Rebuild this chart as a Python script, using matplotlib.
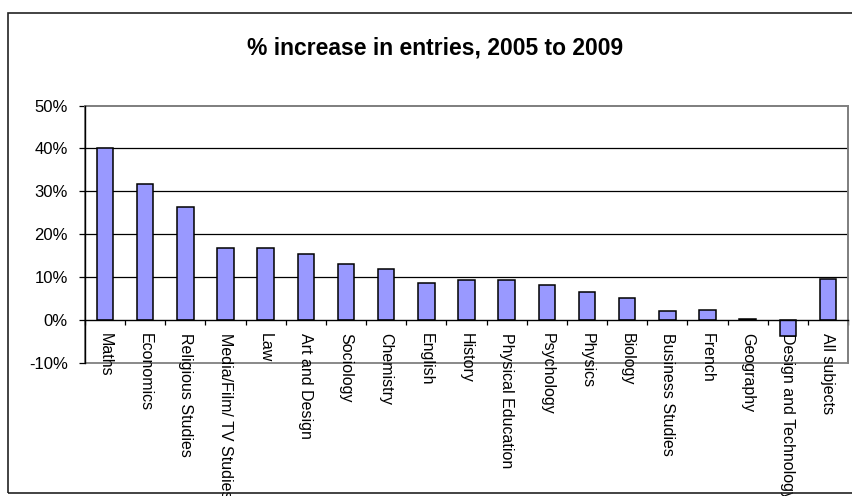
import matplotlib
matplotlib.use("Agg")
import matplotlib.pyplot as plt
from matplotlib.patches import Rectangle
from matplotlib.ticker import FuncFormatter, FixedLocator
import numpy as np

plt.rcParams['font.family'] = ['Liberation Sans', 'DejaVu Sans']

subjects = ["Maths", "Economics", "Religious Studies", "Media/Film/ TV Studies", "Law",
            "Art and Design", "Sociology", "Chemistry", "English", "History",
            "Physical Education", "Psychology", "Physics", "Biology", "Business Studies",
            "French", "Geography", "Design and Technology", "All subjects"]
pct_increase = [40.0, 31.7, 26.3, 16.7, 16.7, 15.3, 13.0, 11.9, 8.6, 9.2,
                9.2, 8.2, 6.5, 5.1, 2.0, 2.3, 0.3, -3.7, 9.5]
y_ticks = [-10, 0, 10, 20, 30, 40, 50]

W, H = 853, 496
fig = plt.figure(figsize=(W / 100, H / 100), dpi=100)

left, right = 85 / W, 848 / W
top, bottom = 1 - 105.5 / H, 1 - 362.7 / H
ax = fig.add_axes([left, bottom, right - left, top - bottom])

x = np.arange(len(subjects))
ax.bar(x, pct_increase, width=0.41, color="#9999FF", edgecolor="black",
       linewidth=1.1, zorder=3)

ax.set_xlim(-0.5, len(subjects) - 0.5)
ax.set_ylim(-10, 50)

# gridlines
for v in y_ticks:
    if v in (10, 20, 30, 40):
        ax.axhline(v, color="black", linewidth=0.9, zorder=1)

# plot-area border (gray)
for s in ["top", "right"]:
    ax.spines[s].set_color("#808080")
    ax.spines[s].set_linewidth(1.3)
ax.add_patch(Rectangle((0, 0), 1, 1, transform=ax.transAxes, fill=False,
                       edgecolor="#808080", linewidth=1.3, zorder=0.5, clip_on=False))
ax.spines["left"].set_color("black")
ax.spines["left"].set_linewidth(1.0)
ax.spines["left"].set_zorder(4)
ax.spines["bottom"].set_position(("data", 0))
ax.spines["bottom"].set_color("black")
ax.spines["bottom"].set_linewidth(1.0)
ax.spines["bottom"].set_zorder(4)

ax.yaxis.set_major_locator(FixedLocator(y_ticks))
ax.yaxis.set_major_formatter(FuncFormatter(lambda v, p: f"{int(v)}%"))
ax.tick_params(axis="y", direction="out", length=4.3, width=0.9, pad=8,
               labelsize=12, colors="black")

ax.set_xticks(x)
ax.set_xticklabels(subjects, rotation=-90, ha="center", va="top", fontsize=11.5)
ax.set_xticks(np.arange(len(subjects) + 1) - 0.5, minor=True)
ax.tick_params(axis="x", which="major", length=0, pad=9.5)
ax.tick_params(axis="x", which="minor", direction="out", length=3.5, width=0.9)

# title
fig.text(435 / W, 1 - 47.5 / H, "% increase in entries, 2005 to 2009",
         ha="center", va="center", fontsize=16.5, fontweight="bold")

# outer chart frame
fig.patches.append(Rectangle((8 / W, 3 / H), 2.0, (493 - 13) / H,
                             transform=fig.transFigure, fill=False,
                             edgecolor="#222222", linewidth=1.2))

fig.savefig("out.png", dpi=100)
